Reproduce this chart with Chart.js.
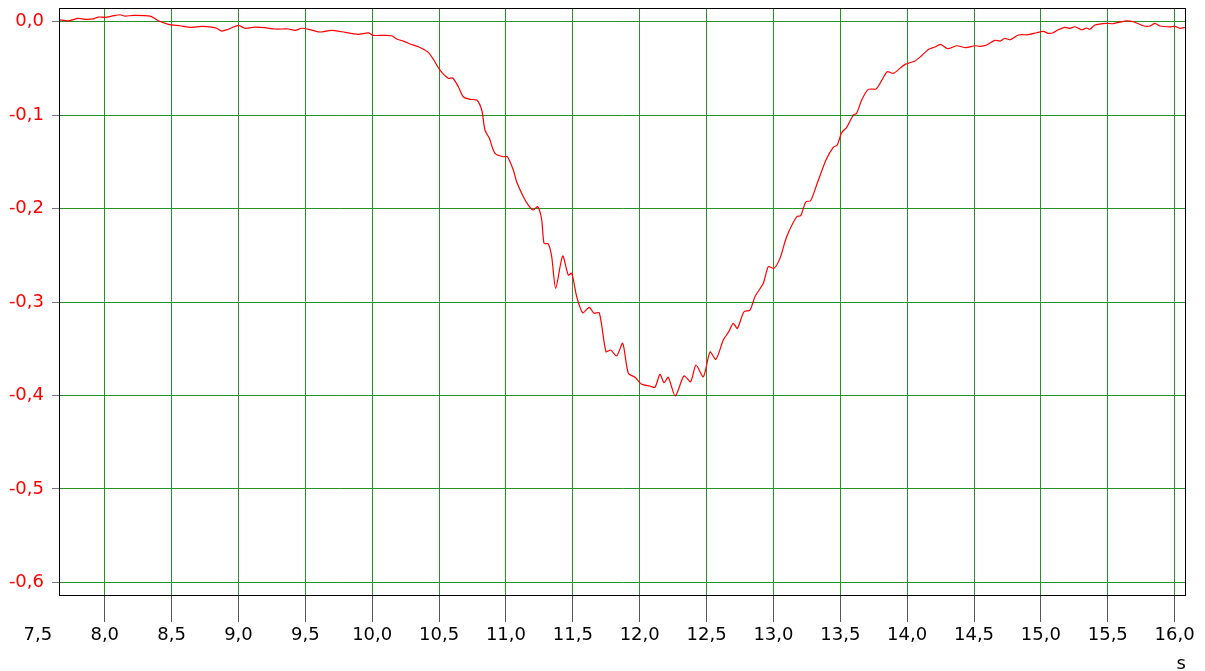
<!DOCTYPE html>
<html>
<head>
<meta charset="utf-8">
<script src="https://cdn.jsdelivr.net/npm/chart.js@4"></script>
<style>
    html, body { margin: 0; padding: 0; background: #fff; }
    #wrap { width: 1205px; height: 671px; }
</style>
</head>
<body>
<div id="wrap"><canvas id="myChart" width="1205" height="671"></canvas></div>
<script>
// time axis (s) and measured signal
const times = [
    7.658, 7.728, 7.803, 7.853, 7.915, 7.952, 8.002, 8.052, 8.114, 8.152, 8.214, 8.339, 8.401, 8.476,
    8.563, 8.650, 8.725, 8.800, 8.837, 8.875, 8.924, 8.999, 9.049, 9.124, 9.199, 9.273, 9.373, 9.423,
    9.473, 9.548, 9.610, 9.697, 9.772, 9.896, 9.971, 10.008, 10.083, 10.146, 10.183, 10.233, 10.283,
    10.345, 10.419, 10.457, 10.507, 10.569, 10.602, 10.644, 10.681, 10.731, 10.781, 10.819, 10.843,
    10.876, 10.918, 10.980, 11.010, 11.055, 11.080, 11.130, 11.167, 11.204, 11.237, 11.267, 11.285,
    11.317, 11.342, 11.372, 11.424, 11.466, 11.492, 11.529, 11.574, 11.623, 11.658, 11.698, 11.748,
    11.783, 11.828, 11.873, 11.915, 11.965, 12.015, 12.077, 12.114, 12.152, 12.182, 12.214, 12.266,
    12.331, 12.381, 12.421, 12.476, 12.526, 12.570, 12.625, 12.665, 12.700, 12.730, 12.780, 12.825,
    12.862, 12.924, 12.962, 13.004, 13.049, 13.099, 13.174, 13.204, 13.243, 13.278, 13.323, 13.393,
    13.447, 13.477, 13.510, 13.548, 13.597, 13.622, 13.660, 13.709, 13.767, 13.797, 13.851, 13.896,
    13.946, 13.984, 14.058, 14.108, 14.158, 14.208, 14.250, 14.303, 14.370, 14.440, 14.507, 14.544,
    14.594, 14.656, 14.694, 14.731, 14.769, 14.831, 14.905, 14.968, 15.018, 15.055, 15.092, 15.130,
    15.180, 15.217, 15.255, 15.305, 15.342, 15.367, 15.404, 15.492, 15.541, 15.628, 15.691, 15.765,
    15.815, 15.853, 15.890, 15.965, 16.002, 16.040, 16.077
];
const signal = [
    0.0020, 0.0010, 0.0036, 0.0026, 0.0030, 0.0050, 0.0047, 0.0060, 0.0075, 0.0060, 0.0068, 0.0060, 0.0010, -0.0028,
    -0.0043, -0.0060, -0.0050, -0.0057, -0.0070, -0.0100, -0.0080, -0.0039, -0.0070, -0.0057, -0.0064, -0.0078, -0.0078, -0.0092,
    -0.0070, -0.0089, -0.0110, -0.0092, -0.0107, -0.0135, -0.0120, -0.0146, -0.0146, -0.0150, -0.0185, -0.0207, -0.0239,
    -0.0268, -0.0328, -0.0402, -0.0517, -0.0606, -0.0603, -0.0696, -0.0803, -0.0831, -0.0838, -0.0945, -0.1159,
    -0.1248, -0.1409, -0.1445, -0.1445, -0.1587, -0.1713, -0.1873, -0.1962, -0.2015, -0.1980, -0.2115, -0.2372,
    -0.2379, -0.2515, -0.2853, -0.2508, -0.2711, -0.2693, -0.2943, -0.3115, -0.3057, -0.3121, -0.3115, -0.3532,
    -0.3514, -0.3578, -0.3442, -0.3763, -0.3806, -0.3881, -0.3899, -0.3913, -0.3774, -0.3864, -0.3806, -0.4006,
    -0.3792, -0.3853, -0.3674, -0.3800, -0.3535, -0.3613, -0.3407, -0.3320, -0.3228, -0.3282, -0.3104, -0.3086,
    -0.2943, -0.2800, -0.2622, -0.2640, -0.2533, -0.2301, -0.2087, -0.2076, -0.1927, -0.1916, -0.1748, -0.1480,
    -0.1344, -0.1320, -0.1188, -0.1130, -0.0999, -0.0981, -0.0838, -0.0724, -0.0720, -0.0660, -0.0535, -0.0553,
    -0.0499, -0.0456, -0.0421, -0.0364, -0.0296, -0.0271, -0.0242, -0.0289, -0.0257, -0.0278, -0.0257, -0.0263,
    -0.0249, -0.0199, -0.0207, -0.0178, -0.0193, -0.0142, -0.0139, -0.0118, -0.0103, -0.0124, -0.0118, -0.0086,
    -0.0060, -0.0071, -0.0054, -0.0086, -0.0067, -0.0081, -0.0035, -0.0017, -0.0021, 0.0007, 0.0000, -0.0043,
    -0.0046, -0.0017, -0.0046, -0.0054, -0.0049, -0.0071, -0.0060
];

const xTicks = [7.5, 8.0, 8.5, 9.0, 9.5, 10.0, 10.5, 11.0, 11.5, 12.0, 12.5, 13.0, 13.5, 14.0, 14.5, 15.0, 15.5, 16.0];
const yTicks = [0.0, -0.1, -0.2, -0.3, -0.4, -0.5, -0.6];
const xUnit = 's';

const X_MIN = 7.658, X_MAX = 16.085;
const Y_MIN = -0.6136, Y_MAX = 0.0147;

const GRID_GREEN = 'rgb(40,145,40)';
const FONT = { family: "'DejaVu Sans', 'Liberation Sans', sans-serif", size: 18 };

function commaLabel(v) {
    return Number(v).toFixed(1).replace('.', ',');
}

// black frame round the plot area
const frame = {
    id: 'frame',
    afterDraw(chart) {
        const a = chart.chartArea;
        const ctx = chart.ctx;
        ctx.save();
        ctx.strokeStyle = '#000';
        ctx.lineWidth = 1;
        ctx.strokeRect(Math.round(a.left) + 0.5, Math.round(a.top) + 0.5,
            Math.round(a.right - a.left) - 1, Math.round(a.bottom - a.top));
        ctx.restore();
    }
};

const ctx = document.getElementById('myChart').getContext('2d');
const chart = new Chart(ctx, {
    type: 'line',
    data: {
        datasets: [{
            data: times.map((t, i) => ({ x: t, y: signal[i] })),
            borderColor: '#ff0000',
            borderWidth: 1.2,
            pointRadius: 0,
            tension: 0.25,
            fill: false
        }]
    },
    options: {
        responsive: false,
        animation: false,
        layout: { padding: { top: 8, right: 19, left: 0, bottom: 0 } },
        plugins: {
            legend: { display: false },
            tooltip: { enabled: false }
        },
        scales: {
            x: {
                type: 'linear',
                min: X_MIN,
                max: X_MAX,
                afterBuildTicks: (scale) => { scale.ticks = xTicks.map(v => ({ value: v })); },
                afterFit: (scale) => {
                    scale.height = 76;
                    scale.paddingLeft = 0;
                    scale.paddingRight = 0;
                },
                grid: {
                    color: (c) => (c.tick && c.tick.value < X_MIN ? 'rgba(0,0,0,0)' : GRID_GREEN),
                    tickColor: (c) => (c.tick && c.tick.value < X_MIN ? 'rgba(0,0,0,0)' : '#555'),
                    tickLength: 27,
                    lineWidth: 1
                },
                border: { display: false },
                ticks: {
                    autoSkip: false,
                    maxRotation: 0,
                    padding: 3,
                    color: '#000',
                    font: FONT,
                    callback: (v) => commaLabel(v)
                },
                title: {
                    display: true,
                    text: xUnit,
                    align: 'end',
                    color: '#000',
                    font: FONT,
                    padding: { top: 0, bottom: -4 }
                }
            },
            y: {
                type: 'linear',
                min: Y_MIN,
                max: Y_MAX,
                afterBuildTicks: (scale) => { scale.ticks = yTicks.map(v => ({ value: v })); },
                afterFit: (scale) => {
                    scale.width = 59;
                    scale.paddingTop = 0;
                    scale.paddingBottom = 0;
                },
                grid: {
                    color: GRID_GREEN,
                    tickColor: '#777',
                    tickLength: 7,
                    lineWidth: 1
                },
                border: { display: false },
                ticks: {
                    autoSkip: false,
                    padding: 8,
                    color: '#ff0000',
                    font: FONT,
                    callback: (v) => commaLabel(v)
                }
            }
        }
    },
    plugins: [frame]
});
</script>
</body>
</html>
